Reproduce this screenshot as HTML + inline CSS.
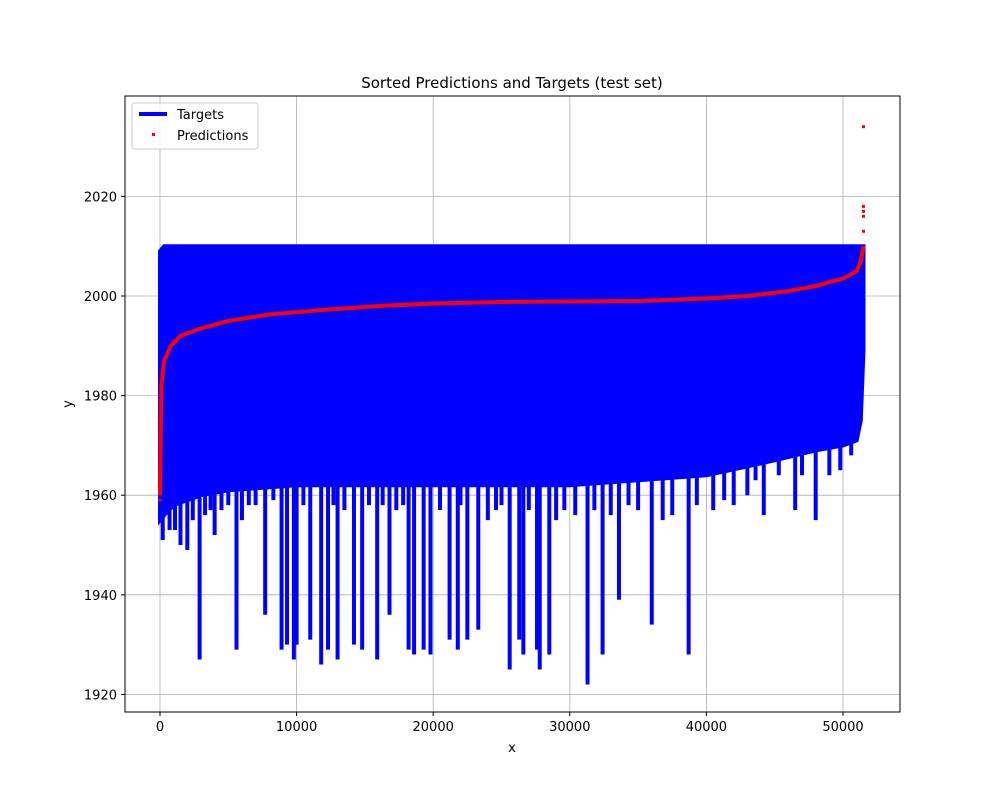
<!DOCTYPE html>
<html><head><meta charset="utf-8"><style>
body{margin:0;background:#fff;font-family:"Liberation Sans","DejaVu Sans",sans-serif}
svg text{font-family:"DejaVu Sans","Liberation Sans",sans-serif;font-size:13px}
</style></head><body>
<svg id="chart" width="1000" height="800">
<rect width="1000" height="800" fill="#fff"/>
<text x="512" y="88" text-anchor="middle" font-size="15" style="font-size:15px">Sorted Predictions and Targets (test set)</text>
<g id="grid"></g>
<clipPath id="clip"><rect x="125" y="96" width="775" height="616"/></clipPath>
<g id="marks" clip-path="url(#clip)"></g>
<rect x="125" y="96" width="775" height="616" fill="none" stroke="#000" stroke-width="1"/>
<g id="ticks"></g>
<text x="512" y="752" text-anchor="middle">x</text>
<text x="72" y="404" text-anchor="middle" transform="rotate(-90 72 404)">y</text>
<g>
<rect x="132" y="103" width="126" height="46" rx="3" fill="#fff" fill-opacity="0.8" stroke="#ccc"/>
<g><line x1="139" y1="114" x2="167" y2="114" stroke="#0000ff" stroke-width="4"/><text x="177" y="119">Targets</text></g>
<g><rect x="152" y="133" width="3" height="3" fill="#ff0000"/><text x="177" y="140">Predictions</text></g>
</g>
</svg>
<script>
const xTicks=[0,10000,20000,30000,40000,50000];
const yTicks=[1920,1940,1960,1980,2000,2020];
const bandX=[0,300,1000,3000,5000,10000,20000,30000,40000,45000,48000,50000,51000,51300,51500];
const bandTop=[2009,2010,2010,2010,2010,2010,2010,2010,2010,2010,2010,2010,2010,2010,2010];
const bandBottom=[1955,1956,1958,1960,1961,1962,1962,1962,1964,1967,1969,1970,1971,1975,1989];
const spikeX=[1500,2000,2900,4000,5600,6000,7700,8900,9300,9800,10000,11000,11800,12300,13000,14200,14800,15900,16800,18200,18600,19300,19800,21200,21800,22500,23300,25600,26300,26600,27600,27800,28500,31300,32400,33600,36000,38700,44200,46500,48000];
const spikeMin=[1950,1949,1927,1952,1929,1955,1936,1929,1930,1927,1930,1931,1926,1929,1927,1930,1929,1927,1936,1929,1928,1929,1928,1931,1929,1931,1933,1925,1931,1928,1929,1925,1928,1922,1928,1939,1934,1928,1956,1957,1955];
const minorX=[200,700,1100,2400,3300,3700,4500,5000,6500,7000,8300,10500,12700,13500,15300,16300,17300,17800,20500,22000,24000,24600,25000,27000,29000,29600,30400,31800,33000,34300,35000,36800,37500,39300,40500,41300,42000,43000,43600,45300,47000,49000,49800,50600];
const minorMin=[1951,1953,1953,1955,1956,1957,1957,1958,1958,1958,1959,1958,1958,1957,1958,1958,1957,1958,1957,1958,1955,1957,1958,1957,1955,1957,1956,1957,1956,1958,1957,1955,1956,1958,1957,1959,1958,1960,1963,1964,1964,1964,1965,1968];
const predX=[0,100,300,800,1500,3000,5000,8000,12000,16000,20000,25000,30000,35000,40000,43000,46000,48000,50000,51000,51300,51500];
const predY=[1960,1982,1987,1990,1992,1993.5,1995,1996.3,1997.2,1998,1998.5,1998.8,1998.9,1999,1999.5,2000,2001,2002,2003.5,2005,2007,2010];
const outX=[0,0,0,0,51500,51500,51500,51500,51500];
const outY=[1971,1975,1962,1959,2034,2018,2017,2016,2013];
const X=v=>160+(v/50000)*683, Y=v=>296-(v-2000)*4.98;
const NS="http://www.w3.org/2000/svg";
function mk(t,a,p){const e=document.createElementNS(NS,t);for(const k in a)e.setAttribute(k,a[k]);p.appendChild(e);return e;}
const grid=document.getElementById('grid'),ticks=document.getElementById('ticks'),marks=document.getElementById('marks');
xTicks.forEach(v=>{const x=X(v);
 const g=mk('line',{x1:x,x2:x,y1:96,y2:712,stroke:'#b0b0b0','stroke-width':0.8},grid);
 mk('line',{x1:x,x2:x,y1:712,y2:716,stroke:'#000'},ticks);
 const t=mk('text',{x:x,y:731,'text-anchor':'middle'},ticks);t.textContent=v;
 
 });
yTicks.forEach(v=>{const y=Y(v);
 const g=mk('line',{x1:125,x2:900,y1:y,y2:y,stroke:'#b0b0b0','stroke-width':0.8},grid);
 mk('line',{x1:121,x2:125,y1:y,y2:y,stroke:'#000'},ticks);
 const t=mk('text',{x:117,y:y+5,'text-anchor':'end'},ticks);t.textContent=v;
 
 });
let d='M'+X(bandX[0])+','+Y(bandTop[0]);
bandX.forEach((v,i)=>d+=' L'+X(v)+','+Y(bandTop[i]));
for(let i=bandX.length-1;i>=0;i--)d+=' L'+X(bandX[i])+','+Y(bandBottom[i]);
const band=mk('path',{d:d+'Z',fill:'#0000ff',stroke:'#0000ff','stroke-width':4,'stroke-linejoin':'miter'},marks);


minorX.forEach((v,i)=>{const s=mk('line',{x1:X(v),x2:X(v),y1:Y(1990),y2:Y(minorMin[i]),stroke:'#0000ff','stroke-width':4},marks);
 
 });
spikeX.forEach((v,i)=>{const s=mk('line',{x1:X(v),x2:X(v),y1:Y(1990),y2:Y(spikeMin[i]),stroke:'#0000ff','stroke-width':4},marks);
 
 });
let pd='';predX.forEach((v,i)=>pd+=(i?' L':'M')+X(v)+','+Y(predY[i]));
const pl=mk('path',{d:pd,fill:'none',stroke:'#ff0000','stroke-width':4},marks);


outX.forEach((v,i)=>{const r=mk('rect',{x:X(v)-1.5,y:Y(outY[i])-1.5,width:3,height:3,fill:'#ff0000'},marks);
 
 });
</script>
</body></html>
